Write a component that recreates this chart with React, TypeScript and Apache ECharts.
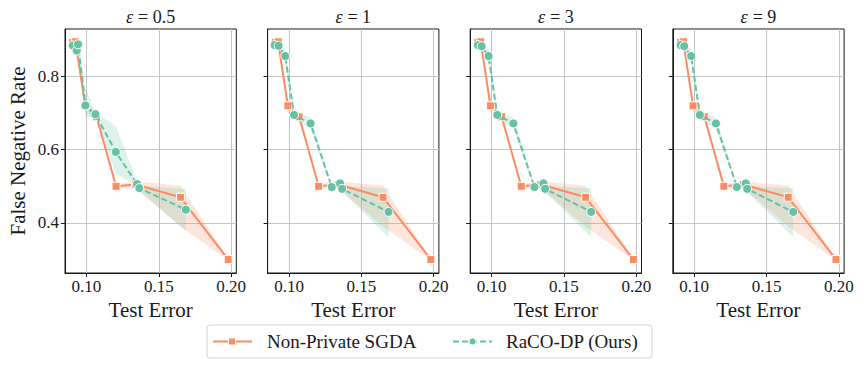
import { useEffect, useRef } from 'react';
import * as echarts from 'echarts';

const panelTitles = ['0.5', '1', '3', '9'];
const xTicks = [0.1, 0.15, 0.2];
const yTicks = [0.4, 0.6, 0.8];

// Non-Private SGDA (same in every panel)
const sgdaX = [0.0905, 0.0925, 0.0992, 0.107, 0.1205, 0.134, 0.165, 0.198];
const sgdaY = [0.893, 0.895, 0.72, 0.69, 0.5, 0.505, 0.47, 0.3];
const sgdaLo = [0.886, 0.886, 0.705, 0.68, 0.494, 0.495, 0.39, 0.298];
const sgdaHi = [0.9, 0.9, 0.735, 0.7, 0.506, 0.513, 0.502, 0.302];

// RaCO-DP (Ours), per epsilon
const racoX05 = [0.0906, 0.0933, 0.0942, 0.0993, 0.1062, 0.1203, 0.135, 0.1366, 0.1687];
const racoY05 = [0.885, 0.871, 0.888, 0.721, 0.697, 0.594, 0.506, 0.495, 0.436];
const racoLo05 = [0.879, 0.864, 0.88, 0.69, 0.688, 0.535, 0.5, 0.488, 0.378];
const racoHi05 = [0.891, 0.878, 0.895, 0.77, 0.702, 0.665, 0.513, 0.5, 0.493];

const racoX1 = [0.09, 0.0928, 0.0974, 0.1035, 0.1149, 0.1295, 0.1353, 0.1367, 0.1688];
const racoY1 = [0.886, 0.884, 0.856, 0.695, 0.672, 0.498, 0.508, 0.493, 0.43];
const racoLo1 = [0.88, 0.878, 0.835, 0.684, 0.658, 0.494, 0.5, 0.485, 0.361];
const racoHi1 = [0.892, 0.891, 0.876, 0.706, 0.688, 0.503, 0.515, 0.5, 0.495];

const racoX3 = [0.0905, 0.0931, 0.0979, 0.1039, 0.115, 0.1296, 0.1358, 0.137, 0.1688];
const racoY3 = [0.886, 0.883, 0.856, 0.695, 0.672, 0.498, 0.508, 0.493, 0.43];
const racoLo3 = [0.88, 0.877, 0.835, 0.684, 0.658, 0.494, 0.5, 0.485, 0.361];
const racoHi3 = [0.892, 0.89, 0.876, 0.706, 0.688, 0.503, 0.515, 0.5, 0.495];

const racoX9 = [0.0906, 0.0931, 0.0979, 0.1039, 0.115, 0.1295, 0.1357, 0.1366, 0.1684];
const racoY9 = [0.886, 0.883, 0.856, 0.695, 0.672, 0.498, 0.508, 0.493, 0.43];
const racoLo9 = [0.88, 0.877, 0.835, 0.684, 0.658, 0.494, 0.5, 0.485, 0.361];
const racoHi9 = [0.892, 0.89, 0.876, 0.706, 0.688, 0.503, 0.515, 0.5, 0.495];

const racoX = [racoX05, racoX1, racoX3, racoX9];
const racoY = [racoY05, racoY1, racoY3, racoY9];
const racoLo = [racoLo05, racoLo1, racoLo3, racoLo9];
const racoHi = [racoHi05, racoHi1, racoHi3, racoHi9];

const ORANGE = '#fc8d62';
const GREEN = '#66c2a5';
const INK = '#1a1a1a';
const FONT = 'Liberation Serif';

const X_MIN = 0.0852;
const X_MAX = 0.2036;
const Y_MIN = 0.263;
const Y_MAX = 0.93;

const GRID_LEFT0 = 65;
const GRID_STEP = 202.6;
const GRID_W = 171.3;
const GRID_TOP = 29;
const GRID_H = 244;

function band(gi: number, xs: number[], lo: number[], hi: number[], color: string) {
  return {
    type: 'custom',
    xAxisIndex: gi,
    yAxisIndex: gi,
    silent: true,
    z: 1,
    data: [[xs[0], lo[0]]],
    renderItem: (_p: any, api: any) => {
      const pts: number[][] = [];
      for (let i = 0; i < xs.length; i++) pts.push(api.coord([xs[i], hi[i]]));
      for (let i = xs.length - 1; i >= 0; i--) pts.push(api.coord([xs[i], lo[i]]));
      return { type: 'polygon', shape: { points: pts }, style: { fill: color, opacity: 0.22 } };
    },
  };
}

function measure(text: string, font: string): number {
  const c = document.createElement('canvas').getContext('2d');
  if (!c) return text.length * 8;
  c.font = font;
  return c.measureText(text).width;
}

export default function App() {
  const ref = useRef<HTMLDivElement>(null);
  useEffect(() => {
    if (!ref.current) return;
    const chart = echarts.init(ref.current, null, { renderer: 'svg' });
    const grids: any[] = [];
    const xAxes: any[] = [];
    const yAxes: any[] = [];
    const series: any[] = [];
    const graphic: any[] = [];
    const titleFont = `18px ${FONT}`;
    const epsFont = `italic 18px ${FONT}`;
    const GAP = 5;
    for (let i = 0; i < 4; i++) {
      const left = GRID_LEFT0 + GRID_STEP * i;
      const cx = left + GRID_W / 2;
      const rest = `= ${panelTitles[i]}`;
      const wE = measure('ε', epsFont);
      const wR = measure(rest, titleFont);
      const x0 = cx - (wE + GAP + wR) / 2;
      grids.push({
        left, top: GRID_TOP, width: GRID_W, height: GRID_H,
        show: true, borderColor: INK, borderWidth: 1, backgroundColor: 'transparent',
      });
      graphic.push({
        type: 'text', x: x0, y: 17,
        style: { text: 'ε', align: 'left', verticalAlign: 'middle', font: epsFont, fill: INK },
      });
      graphic.push({
        type: 'text', x: x0 + wE + GAP, y: 17,
        style: { text: rest, align: 'left', verticalAlign: 'middle', font: titleFont, fill: INK },
      });
      xAxes.push({
        type: 'value', gridIndex: i, min: X_MIN, max: X_MAX,
        axisLine: { show: true, onZero: false, lineStyle: { color: INK, width: 1 } },
        axisTick: { show: true, customValues: xTicks, length: 4, lineStyle: { color: INK, width: 1 } },
        axisLabel: {
          customValues: xTicks, formatter: (v: number) => v.toFixed(2),
          fontFamily: FONT, fontSize: 17, color: INK, margin: 5,
        },
        splitLine: { show: true, lineStyle: { color: '#c4c4c4', width: 1 } },
        name: 'Test Error', nameLocation: 'middle', nameGap: 26,
        nameTextStyle: { fontFamily: FONT, fontSize: 21, color: INK },
      });
      yAxes.push({
        type: 'value', gridIndex: i, min: Y_MIN, max: Y_MAX,
        axisLine: { show: true, onZero: false, lineStyle: { color: INK, width: 1 } },
        axisTick: { show: true, customValues: yTicks, length: 4, lineStyle: { color: INK, width: 1 } },
        axisLabel: {
          show: i === 0, customValues: yTicks, formatter: (v: number) => v.toFixed(1),
          fontFamily: FONT, fontSize: 17, color: INK, margin: 6,
        },
        splitLine: { show: true, lineStyle: { color: '#c4c4c4', width: 1 } },
        name: i === 0 ? 'False Negative Rate' : '', nameLocation: 'middle', nameGap: 37,
        nameTextStyle: { fontFamily: FONT, fontSize: 21, color: INK },
      });
      series.push(band(i, sgdaX, sgdaLo, sgdaHi, ORANGE));
      series.push(band(i, racoX[i], racoLo[i], racoHi[i], GREEN));
      series.push({
        type: 'line', name: 'Non-Private SGDA', xAxisIndex: i, yAxisIndex: i, z: 3,
        data: sgdaX.map((x, k) => [x, sgdaY[k]]),
        symbol: 'rect', symbolSize: 8, showAllSymbol: true,
        lineStyle: { color: ORANGE, width: 2 },
        itemStyle: { color: ORANGE, borderColor: '#fff', borderWidth: 1 },
      });
      series.push({
        type: 'line', name: 'RaCO-DP (Ours)', xAxisIndex: i, yAxisIndex: i, z: 4,
        data: racoX[i].map((x, k) => [x, racoY[i][k]]),
        symbol: 'circle', symbolSize: 9, showAllSymbol: true,
        lineStyle: { color: GREEN, width: 2, type: [6, 3] },
        itemStyle: { color: GREEN, borderColor: '#fff', borderWidth: 1 },
      });
    }

    const lg = { x: 207, y: 325, w: 445, h: 33 };
    const cy = lg.y + lg.h / 2;
    graphic.push(
      {
        type: 'rect', shape: { x: lg.x, y: lg.y, width: lg.w, height: lg.h, r: 3 },
        style: { fill: 'rgba(255,255,255,0.85)', stroke: '#d4d4d4', lineWidth: 1 },
      },
      { type: 'line', shape: { x1: 213, y1: cy, x2: 252, y2: cy }, style: { stroke: ORANGE, lineWidth: 2 } },
      {
        type: 'rect', shape: { x: 228.5, y: cy - 3.5, width: 7, height: 7 },
        style: { fill: ORANGE, stroke: '#fff', lineWidth: 1 },
      },
      {
        type: 'text', x: 267, y: cy,
        style: { text: 'Non-Private SGDA', font: `19px ${FONT}`, fill: INK, verticalAlign: 'middle' },
      },
      {
        type: 'line', shape: { x1: 453, y1: cy, x2: 492, y2: cy },
        style: { stroke: GREEN, lineWidth: 2, lineDash: [6, 3] },
      },
      { type: 'circle', shape: { cx: 472.5, cy, r: 3.5 }, style: { fill: GREEN, stroke: '#fff', lineWidth: 1 } },
      {
        type: 'text', x: 506, y: cy,
        style: { text: 'RaCO-DP (Ours)', font: `19px ${FONT}`, fill: INK, verticalAlign: 'middle' },
      }
    );

    chart.setOption({
      animation: false,
      backgroundColor: '#fff',
      grid: grids,
      xAxis: xAxes,
      yAxis: yAxes,
      series,
      graphic,
    });
    return () => chart.dispose();
  }, []);
  return (
    <div
      ref={ref}
      style={{ position: 'absolute', left: 0, top: 0, width: 864, height: 367 }}
    />
  );
}
